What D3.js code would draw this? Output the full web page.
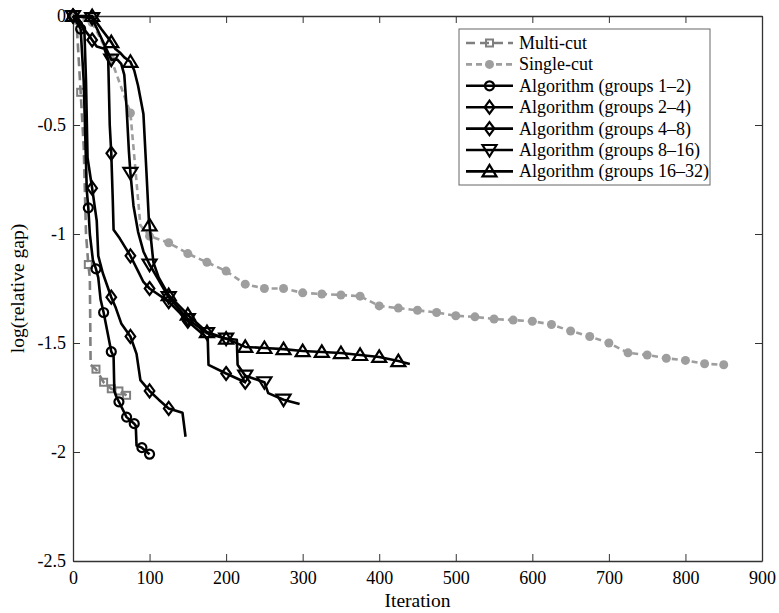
<!DOCTYPE html>
<html>
<head>
<meta charset="utf-8">
<script src="https://cdn.jsdelivr.net/npm/d3@7"></script>
<style>
  body { margin: 0; background: #fff; }
  text { font-family: "Liberation Serif", "DejaVu Serif", serif; }
</style>
</head>
<body>
<script>
// values: iteration / log(relative gap)
let multiCutIter = [0, 5, 10, 14, 17, 20, 22, 23, 30, 40, 50, 60, 70]
let multiCutGap  = [0, -0.05, -0.35, -0.6, -1.0, -1.14, -1.2, -1.6, -1.62, -1.68, -1.71, -1.72, -1.74]

let singleCutIter = [0, 25, 50, 75, 88, 100, 125, 150, 175, 200, 225, 250, 275, 300, 325, 350, 375, 400, 425, 450, 475, 500, 525, 550, 575, 600, 625, 650, 675, 700, 725, 750, 775, 800, 825, 850]
let singleCutGap  = [0, -0.03, -0.2, -0.445, -0.96, -1.01, -1.04, -1.09, -1.13, -1.17, -1.23, -1.25, -1.25, -1.27, -1.275, -1.28, -1.285, -1.33, -1.34, -1.35, -1.36, -1.375, -1.38, -1.39, -1.395, -1.40, -1.415, -1.445, -1.47, -1.50, -1.545, -1.555, -1.57, -1.58, -1.595, -1.60]

let g12Iter = [0, 10, 14, 18, 20, 22, 26, 30, 33, 36, 40, 45, 50, 53, 54, 57, 60, 70, 80, 82, 83, 90, 100]
let g12Gap  = [0, -0.06, -0.3, -0.8, -0.88, -1.0, -1.12, -1.16, -1.2, -1.3, -1.36, -1.45, -1.54, -1.56, -1.72, -1.75, -1.77, -1.84, -1.87, -1.88, -1.97, -1.98, -2.01]

let g24Iter = [0, 11, 15, 17, 19, 25, 31, 33, 39, 50, 56, 63, 75, 83, 88, 100, 112, 125, 143, 147]
let g24Gap  = [0, -0.03, -0.08, -0.3, -0.65, -0.79, -0.94, -1.1, -1.18, -1.29, -1.34, -1.41, -1.47, -1.55, -1.67, -1.72, -1.76, -1.80, -1.82, -1.93]

let g48Iter = [0, 12, 21, 25, 31, 41, 46, 48, 50, 52, 53, 61, 68, 75, 85, 92, 100, 125, 150, 176, 177, 200, 225]
let g48Gap  = [0, -0.05, -0.09, -0.11, -0.14, -0.15, -0.2, -0.5, -0.63, -0.85, -0.98, -1.02, -1.06, -1.10, -1.17, -1.22, -1.25, -1.31, -1.40, -1.48, -1.60, -1.64, -1.68]

let g816Iter = [0, 25, 50, 58, 63, 67, 70, 73, 75, 79, 85, 92, 100, 110, 125, 150, 175, 200, 214, 215, 225, 250, 255, 275, 296]
let g816Gap  = [0, -0.01, -0.2, -0.2, -0.22, -0.27, -0.42, -0.62, -0.72, -0.87, -0.99, -1.08, -1.14, -1.2, -1.29, -1.39, -1.455, -1.48, -1.485, -1.6, -1.65, -1.68, -1.73, -1.76, -1.78]

let g1632Iter = [0, 25, 37, 50, 55, 62, 67, 75, 80, 85, 92, 96, 99, 100, 105, 112, 125, 150, 175, 200, 225, 250, 275, 300, 325, 350, 375, 400, 425, 440]
let g1632Gap  = [0, 0, -0.06, -0.12, -0.15, -0.17, -0.19, -0.21, -0.25, -0.32, -0.45, -0.72, -0.93, -0.96, -1.13, -1.2, -1.28, -1.37, -1.45, -1.48, -1.518, -1.523, -1.528, -1.537, -1.541, -1.546, -1.555, -1.564, -1.583, -1.596]

let seriesNames = ['Multi-cut', 'Single-cut', 'Algorithm (groups 1\u20132)', 'Algorithm (groups 2\u20134)',
                   'Algorithm (groups 4\u20138)', 'Algorithm (groups 8\u201316)', 'Algorithm (groups 16\u201332)']
let xTicks = [0, 100, 200, 300, 400, 500, 600, 700, 800, 900]
let yTicks = [0, -0.5, -1, -1.5, -2, -2.5]

function main(){

let width = 779
let height = 613
let left = 73, right = 762, top = 16, bottom = 561

let svg = d3.select('body').append('svg')
    .attr('width', width)
    .attr('height', height)

let xScale = d3.scaleLinear().domain([0, 900]).range([left, right])
let yScale = d3.scaleLinear().domain([-2.5, 0]).range([bottom, top])

// series table, built from the arrays above
let series = [
    {name: seriesNames[0], it: multiCutIter, v: multiCutGap, every: 10, color: '#7f7f7f', dash: '9,5', mark: 'square'},
    {name: seriesNames[1], it: singleCutIter, v: singleCutGap, every: 25, color: '#9e9e9e', dash: '6,4', mark: 'dot'},
    {name: seriesNames[2], it: g12Iter, v: g12Gap, every: 10, color: '#000', dash: null, mark: 'circle'},
    {name: seriesNames[3], it: g24Iter, v: g24Gap, every: 25, color: '#000', dash: null, mark: 'diamond'},
    {name: seriesNames[4], it: g48Iter, v: g48Gap, every: 25, color: '#000', dash: null, mark: 'diamond'},
    {name: seriesNames[5], it: g816Iter, v: g816Gap, every: 25, color: '#000', dash: null, mark: 'tridown'},
    {name: seriesNames[6], it: g1632Iter, v: g1632Gap, every: 25, color: '#000', dash: null, mark: 'triup'}
]

// axes box
let xAxis = d3.axisBottom(xScale).tickValues(xTicks).tickSizeInner(-7).tickSizeOuter(0).tickPadding(10)
let yAxis = d3.axisLeft(yScale).tickValues(yTicks).tickSizeInner(-7).tickSizeOuter(0).tickPadding(7)
    .tickFormat(d => d === 0 ? '0' : String(d).replace('\u2212', '-'))

svg.append('g').attr('class', 'ax').attr('transform', 'translate(0,' + bottom + ')').call(xAxis)
svg.append('g').attr('class', 'ax').attr('transform', 'translate(' + left + ',0)').call(yAxis)
svg.append('g').attr('class', 'ax').attr('transform', 'translate(0,' + top + ')')
    .call(d3.axisTop(xScale).tickValues(xTicks).tickSizeInner(-7).tickSizeOuter(0).tickFormat(''))
svg.append('g').attr('class', 'ax').attr('transform', 'translate(' + right + ',0)')
    .call(d3.axisRight(yScale).tickValues(yTicks).tickSizeInner(-7).tickSizeOuter(0).tickFormat(''))

svg.selectAll('.ax path').attr('stroke', '#333').attr('stroke-width', 1.3)
svg.selectAll('.ax line').attr('stroke', '#333').attr('stroke-width', 1)
svg.selectAll('.ax text').attr('font-size', 18).attr('fill', '#000')
    .style('font-family', '"Liberation Serif", "DejaVu Serif", serif')

// axis titles
svg.append('text')
    .attr('x', (left + right) / 2).attr('y', 607)
    .attr('text-anchor', 'middle').attr('font-size', 19.5)
    .text('Iteration')
svg.append('text')
    .attr('transform', 'translate(24,' + ((top + bottom) / 2) + ') rotate(-90)')
    .attr('text-anchor', 'middle').attr('font-size', 19.5)
    .text('log(relative gap)')

function drawMarker(g, type, color){
    if(type === 'circle') g.append('circle').attr('r', 4.5).attr('fill', 'none').attr('stroke', color).attr('stroke-width', 2.2)
    else if(type === 'dot') g.append('circle').attr('r', 4.5).attr('fill', color)
    else if(type === 'square') g.append('rect').attr('x', -3.5).attr('y', -3.5).attr('width', 7).attr('height', 7)
        .attr('fill', 'none').attr('stroke', color).attr('stroke-width', 2)
    else {
        let p = {
            diamond: 'M0,-6.5L4.8,0L0,6.5L-4.8,0Z',
            tridown: 'M-7,-5L7,-5L0,6.5Z',
            triup: 'M-7,5L7,5L0,-6.5Z'
        }[type]
        g.append('path').attr('d', p).attr('fill', 'none').attr('stroke', color).attr('stroke-width', 2.2)
            .attr('stroke-linejoin', 'miter')
    }
}

let line = d3.line().x(d => xScale(d[0])).y(d => yScale(d[1]))

let plot = svg.append('g')
series.forEach(s => {
    let pts = s.it.map((x, i) => [x, s.v[i]])
    plot.append('path')
        .attr('d', line(pts))
        .attr('fill', 'none')
        .attr('stroke', s.color)
        .attr('stroke-width', 2.6)
        .attr('stroke-dasharray', s.dash)
        .attr('stroke-linejoin', 'round')
    pts.filter(p => p[0] % s.every === 0).forEach(p => {
        let g = plot.append('g').attr('transform', 'translate(' + xScale(p[0]) + ',' + yScale(p[1]) + ')')
        drawMarker(g, s.mark, s.color)
    })
})

// legend
let lg = svg.append('g').attr('transform', 'translate(459,29)')
lg.append('rect').attr('width', 251).attr('height', 156)
    .attr('fill', '#fff').attr('stroke', '#666').attr('stroke-width', 1)
series.forEach((s, i) => {
    let yy = 14 + i * 21.4
    lg.append('line').attr('x1', 7).attr('x2', 54).attr('y1', yy).attr('y2', yy)
        .attr('stroke', s.color).attr('stroke-width', 2.6).attr('stroke-dasharray', s.dash)
    drawMarker(lg.append('g').attr('transform', 'translate(30.5,' + yy + ')'), s.mark, s.color)
    lg.append('text').attr('x', 60).attr('y', yy + 6).attr('font-size', 18).text(s.name)
})

}
main()
</script>
</body>
</html>
